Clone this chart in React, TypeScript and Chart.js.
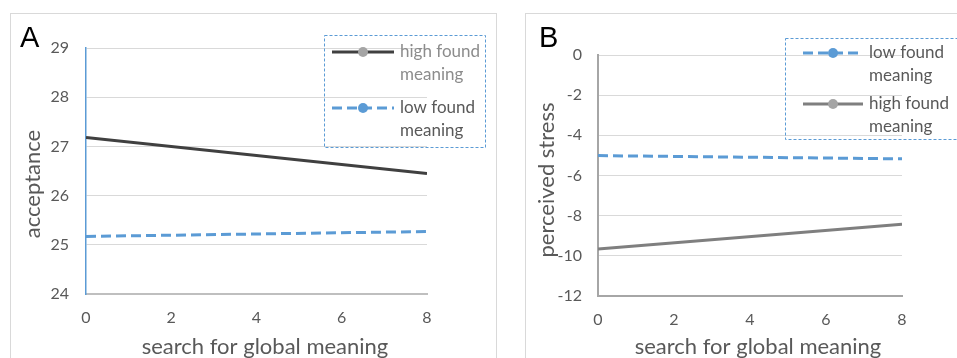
import React, { useEffect, useRef } from "react";
import { Chart, registerables } from "chart.js";

Chart.register(...registerables);

// ---------- data ----------
const xValues = [0, 8];
const xTickValues = [0, 2, 4, 6, 8];

const acceptanceHigh = [27.18, 26.45];
const acceptanceLow = [25.17, 25.27];
const acceptanceTicks = [24, 25, 26, 27, 28, 29];

const stressLow = [-5.01, -5.17];
const stressHigh = [-9.66, -8.43];
const stressTicks = [-12, -10, -8, -6, -4, -2, 0];

const highLabel = ["high found", "meaning"];
const lowLabel = ["low found", "meaning"];

const xTitle = "search for global meaning";
const yTitleA = "acceptance";
const yTitleB = "perceived stress";

// ---------- style ----------
const BLUE = "#5B9BD5";
const TEXT = "#595959";
const GRID = "#D9D9D9";
const FONT = "Lato, 'Noto Sans', sans-serif";

const toPoints = (ys: number[]) => ys.map((y, i) => ({ x: xValues[i], y }));

const decorPlugin = {
  id: "decor",
  afterDraw(chart: any, _args: any, o: any) {
    const ctx = chart.ctx as CanvasRenderingContext2D;
    ctx.save();
    // panel letter
    ctx.font = `29px "Liberation Sans", Arial, sans-serif`;
    ctx.fillStyle = "#000";
    ctx.textAlign = "left";
    ctx.textBaseline = "alphabetic";
    ctx.fillText(o.letter, o.letterX, o.letterY);
    // x title
    ctx.font = `22px ${FONT}`;
    ctx.fillStyle = TEXT;
    ctx.textAlign = "center";
    ctx.textBaseline = "middle";
    ctx.fillText(o.xTitle, o.xTitleX, o.xTitleY);
    // y title
    ctx.save();
    ctx.translate(o.yTitleX, o.yTitleY);
    ctx.rotate(-Math.PI / 2);
    ctx.fillText(o.yTitle, 0, 0);
    ctx.restore();

    // legend box
    ctx.setLineDash([3, 2]);
    ctx.strokeStyle = BLUE;
    ctx.lineWidth = 1;
    ctx.strokeRect(o.box[0] + 0.5, o.box[1] + 0.5, o.box[2] - o.box[0], o.box[3] - o.box[1]);

    // legend entries
    chart.data.datasets.forEach((ds: any, i: number) => {
      const y = o.entryY[i];
      ctx.setLineDash(ds.borderDash || []);
      ctx.strokeStyle = ds.borderColor;
      ctx.lineWidth = ds.borderWidth;
      ctx.beginPath();
      ctx.moveTo(o.lineX0, y);
      ctx.lineTo(o.lineX1, y);
      ctx.stroke();
      ctx.setLineDash([]);
      ctx.fillStyle = o.markerColors[i];
      ctx.beginPath();
      ctx.arc((o.lineX0 + o.lineX1) / 2, y, 5, 0, Math.PI * 2);
      ctx.fill();
      ctx.font = `17px ${FONT}`;
      ctx.fillStyle = o.textColors[i];
      ctx.textAlign = "left";
      ctx.textBaseline = "middle";
      (ds.label as string[]).forEach((line: string, k: number) => {
        ctx.fillText(line, o.textX, y + k * 23);
      });
    });
    ctx.restore();
  },
};

function makeScales(
  ticksY: number[],
  yAxisColor: string,
  yAxisWidth: number,
  xAxisColor: string,
  yWidth: number,
  xHeight: number,
  yPad: number,
  xPad: number
) {
  return {
    x: {
      type: "linear",
      min: xValues[0],
      max: xValues[xValues.length - 1],
      afterBuildTicks: (s: any) => {
        s.ticks = xTickValues.map((v) => ({ value: v }));
      },
      afterFit: (s: any) => {
        s.height = xHeight;
      },
      grid: { display: false, drawTicks: false },
      border: { display: true, color: xAxisColor, width: 2 },
      ticks: { color: TEXT, font: { family: FONT, size: 16 }, padding: xPad, maxRotation: 0 },
    },
    y: {
      type: "linear",
      min: ticksY[0],
      max: ticksY[ticksY.length - 1],
      afterBuildTicks: (s: any) => {
        s.ticks = ticksY.map((v) => ({ value: v }));
      },
      afterFit: (s: any) => {
        s.width = yWidth;
      },
      grid: { color: GRID, lineWidth: 1, drawTicks: false },
      border: { display: true, color: yAxisColor, width: yAxisWidth },
      ticks: { color: TEXT, font: { family: FONT, size: 16 }, padding: yPad },
    },
  };
}

function PanelChart(props: { config: any; style: React.CSSProperties; width: number; height: number }) {
  const ref = useRef<HTMLCanvasElement | null>(null);
  useEffect(() => {
    if (!ref.current) return;
    const chart = new Chart(ref.current, props.config);
    return () => chart.destroy();
  }, []);
  return <canvas ref={ref} width={props.width} height={props.height} style={props.style} />;
}

export default function App() {
  const configA = {
    type: "line",
    data: {
      datasets: [
        {
          label: highLabel,
          data: toPoints(acceptanceHigh),
          borderColor: "#404040",
          borderWidth: 3,
          pointRadius: 0,
        },
        {
          label: lowLabel,
          data: toPoints(acceptanceLow),
          borderColor: BLUE,
          borderWidth: 3,
          borderDash: [10, 5],
          pointRadius: 0,
        },
      ],
    },
    options: {
      animation: false,
      responsive: false,
      devicePixelRatio: 1,
      layout: { padding: { top: 48, right: 78, left: 0, bottom: 0 } },
      scales: makeScales(acceptanceTicks, BLUE, 1.5, "#BFBFBF", 86, 64, 17, 14),
      plugins: {
        legend: { display: false },
        tooltip: { enabled: false },
        decor: {
          letter: "A",
          letterX: 20,
          letterY: 47,
          xTitle,
          xTitleX: 265,
          xTitleY: 347,
          yTitle: yTitleA,
          yTitleX: 33,
          yTitleY: 184,
          box: [324, 35, 485, 147],
          lineX0: 332,
          lineX1: 394,
          textX: 400,
          entryY: [52, 108],
          markerColors: ["#A5A5A5", BLUE],
          textColors: ["#8C8C8C", TEXT],
        },
      },
    },
    plugins: [decorPlugin],
  };

  const configB = {
    type: "line",
    data: {
      datasets: [
        {
          label: lowLabel,
          data: toPoints(stressLow),
          borderColor: BLUE,
          borderWidth: 3,
          borderDash: [10, 5],
          pointRadius: 0,
        },
        {
          label: highLabel,
          data: toPoints(stressHigh),
          borderColor: "#7F7F7F",
          borderWidth: 3,
          pointRadius: 0,
        },
      ],
    },
    options: {
      animation: false,
      responsive: false,
      devicePixelRatio: 1,
      layout: { padding: { top: 55, right: 55, left: 0, bottom: 0 } },
      scales: makeScales(stressTicks, "#A6A6A6", 2, "#A6A6A6", 78, 62, 16, 14),
      plugins: {
        legend: { display: false },
        tooltip: { enabled: false },
        decor: {
          letter: "B",
          letterX: 19,
          letterY: 47,
          xTitle,
          xTitleX: 238,
          xTitleY: 347,
          yTitle: yTitleB,
          yTitleX: 27,
          yTitleY: 180,
          box: [265, 38, 445, 139],
          lineX0: 283,
          lineX1: 343,
          textX: 349,
          entryY: [53, 104],
          markerColors: [BLUE, "#A5A5A5"],
          textColors: [TEXT, TEXT],
        },
      },
    },
    plugins: [decorPlugin],
  };

  return (
    <div
      style={{
        position: "fixed",
        left: 0,
        top: 0,
        width: 957,
        height: 358,
        overflow: "hidden",
        background: "#fff",
      }}
    >
      <div
        style={{
          position: "absolute",
          left: 10,
          top: 13,
          width: 487,
          height: 400,
          boxSizing: "border-box",
          border: "1px solid #D9D9D9",
        }}
      />
      <div
        style={{
          position: "absolute",
          left: 525,
          top: 13,
          width: 500,
          height: 400,
          boxSizing: "border-box",
          border: "1px solid #D9D9D9",
        }}
      />
      <PanelChart
        config={configA}
        width={505}
        height={358}
        style={{ position: "absolute", left: 0, top: 0, width: 505, height: 358 }}
      />
      <PanelChart
        config={configB}
        width={437}
        height={358}
        style={{ position: "absolute", left: 520, top: 0, width: 437, height: 358 }}
      />
    </div>
  );
}
